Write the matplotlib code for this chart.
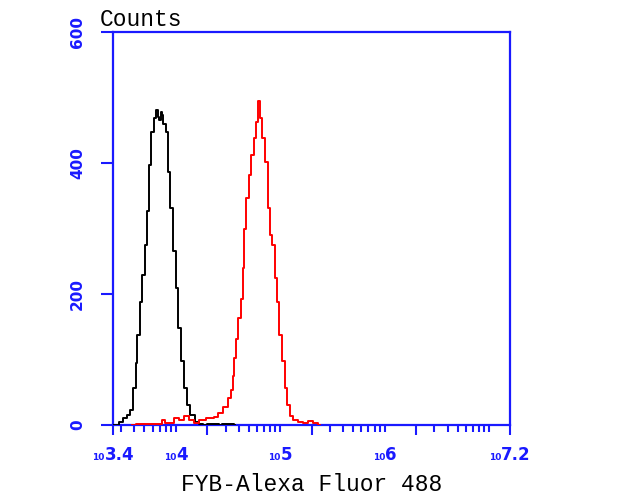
import matplotlib
matplotlib.use("Agg")
import matplotlib.pyplot as plt
from matplotlib.offsetbox import TextArea, HPacker, AnnotationBbox
import numpy as np

# histogram values (log10 of fluorescence, counts)
black_log = [3.40, 3.435, 3.47, 3.515, 3.55, 3.579, 3.611, 3.625, 3.642, 3.668, 3.690, 3.713,
             3.732, 3.754, 3.780, 3.802, 3.828, 3.840, 3.850, 3.860, 3.872, 3.891, 3.914,
             3.936, 3.962, 3.987, 4.010, 4.032, 4.063, 4.089, 4.121, 4.159, 4.201, 4.24,
             4.28, 4.32, 4.36, 4.40, 4.43, 4.46, 4.50, 4.55, 4.57]
black_counts = [0, 0, 4, 10, 16, 23, 56, 95, 137, 188, 229, 275,
                326, 397, 448, 468, 481, 470, 465, 478, 473, 460, 448,
                387, 331, 265, 209, 148, 97, 56, 31, 15, 5, 2,
                0, 2, 2, 2, 0, 2, 2, 2, 0]

red_log = [3.579, 3.65, 3.75, 3.85, 3.881, 3.92, 3.962, 4.010, 4.057, 4.105, 4.153, 4.201,
           4.249, 4.264, 4.312, 4.360, 4.376, 4.424, 4.472, 4.520, 4.542, 4.55, 4.561,
           4.584, 4.609, 4.632, 4.647, 4.663, 4.685, 4.711, 4.737, 4.759, 4.781, 4.800,
           4.816, 4.838, 4.871, 4.893, 4.912, 4.934, 4.960, 4.982, 5.005, 5.030, 5.056,
           5.078, 5.110, 5.142, 5.189, 5.24, 5.285, 5.349, 5.381]
red_counts = [0, 1, 1, 1, 8, 3, 3, 10, 8, 13, 8, 3,
              8, 8, 10, 10, 12, 18, 28, 41, 53, 75, 102,
              132, 163, 193, 239, 300, 346, 382, 412, 438, 463, 494,
              468, 438, 402, 331, 290, 275, 224, 188, 137, 97, 56,
              31, 13, 8, 5, 3, 6, 3, 0]

x_min_exp, x_max_exp = 3.4, 7.2
label_exps = ["3.4", "4", "5", "6", "7.2"]
y_ticks = [0, 200, 400, 600]

BLUE = "#1a1aff"

fig = plt.figure(figsize=(6.25, 5), dpi=100)
ax = fig.add_axes([113 / 625, 1 - 425 / 500, 397 / 625, 393 / 500])

ax.step(10 ** np.array(black_log), black_counts, where="mid", color="black", lw=1.4, zorder=3)
ax.step(10 ** np.array(red_log), red_counts, where="mid", color="red", lw=1.4, zorder=3)

ax.set_xscale("log")
ax.set_xlim(10 ** x_min_exp, 10 ** x_max_exp)
ax.set_ylim(0, 600)

for s in ax.spines.values():
    s.set_color(BLUE)
    s.set_linewidth(1.6)

# long ticks at the ends and at 2 x 10^n, short ticks elsewhere
long_ticks = [10 ** x_min_exp, 2e4, 2e5, 2e6, 10 ** x_max_exp]
short_ticks = [k * 10 ** n for n in range(3, 8) for k in range(1, 10)
               if 10 ** x_min_exp < k * 10 ** n < 10 ** x_max_exp and k != 2]
ax.set_xticks(long_ticks)
ax.set_xticks(short_ticks, minor=True)
ax.set_xticklabels([])
ax.set_xticklabels([], minor=True)
ax.tick_params(axis="x", which="major", direction="out", length=7.5, width=1.5, color=BLUE)
ax.tick_params(axis="x", which="minor", direction="out", length=5, width=1.5, color=BLUE)

ax.set_yticks(y_ticks)
ax.yaxis.set_minor_locator(plt.NullLocator())
ax.tick_params(axis="y", direction="out", length=9, width=1.5, color=BLUE,
               labelcolor=BLUE, labelsize=11, pad=11)
for t in ax.get_yticklabels():
    t.set_rotation(90)
    t.set_va("center")
    t.set_fontweight("bold")

for e in label_exps:
    box = HPacker(children=[
        TextArea("10", textprops=dict(size=6.5, color=BLUE, fontweight="bold")),
        TextArea(e, textprops=dict(size=12, color=BLUE, fontweight="bold")),
    ], align="baseline", pad=0, sep=0)
    ab = AnnotationBbox(box, (10 ** float(e), 0), xycoords=("data", "axes fraction"),
                        xybox=(0, -15), boxcoords="offset points", box_alignment=(0.5, 1),
                        frameon=False, annotation_clip=False, pad=0)
    ax.add_artist(ab)

fig.text(100 / 625, 1 - 26 / 500, "Counts", family="Liberation Mono", fontsize=16.5,
         va="baseline", ha="left")
fig.text(311.5 / 625, 1 - 491 / 500, "FYB-Alexa Fluor 488", family="Liberation Mono",
         fontsize=16.5, va="baseline", ha="center")

fig.savefig("out.png", dpi=100)
